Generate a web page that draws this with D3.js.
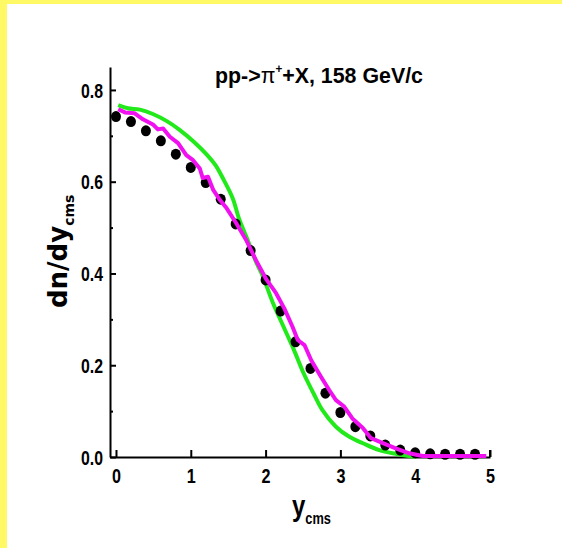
<!DOCTYPE html>
<html>
<head>
<meta charset="utf-8">
<script src="https://cdn.jsdelivr.net/npm/d3@7"></script>
<style>
  html, body { margin: 0; padding: 0; background: #fff; }
  svg { display: block; }
  text { font-family: "Liberation Sans", Arial, sans-serif; font-weight: bold; fill: #000; }
</style>
</head>
<body>
<svg id="chart" width="562" height="548"></svg>
<script>
// Measured dn/dy of pi+ in pp at 158 GeV/c (points)
const dataY = [0, 0.2, 0.4, 0.6, 0.8, 1.0, 1.2, 1.4, 1.6, 1.8, 2.0, 2.2, 2.4, 2.6, 2.8,
               3.0, 3.2, 3.4, 3.6, 3.8, 4.0, 4.2, 4.4, 4.6, 4.8];
const dataDn = [0.742, 0.731, 0.711, 0.689, 0.660, 0.631, 0.598, 0.562, 0.508, 0.450,
                0.386, 0.318, 0.251, 0.193, 0.139, 0.097, 0.066, 0.046, 0.026, 0.015,
                0.009, 0.007, 0.006, 0.006, 0.006];

// Smooth model curve (green)
const greenY = [0.03, 0.16, 0.32, 0.50, 0.68, 0.85, 1.04, 1.22, 1.33, 1.44, 1.56, 1.65, 1.76,
                1.87, 1.96, 2.10, 2.24, 2.38, 2.51, 2.64, 2.76, 2.94, 3.12, 3.30, 3.52, 3.74,
                3.92, 4.00];
const greenDn = [0.767, 0.760, 0.757, 0.747, 0.732, 0.713, 0.687, 0.658, 0.636, 0.604, 0.564,
                 0.517, 0.473, 0.426, 0.395, 0.335, 0.284, 0.233, 0.182, 0.139, 0.102, 0.066,
                 0.044, 0.030, 0.015, 0.007, 0.002, 0.000];

// Simulated spectrum (magenta)
const magentaY = [0.03, 0.12, 0.25, 0.36, 0.50, 0.56, 0.63, 0.72, 0.83, 0.94, 1.03, 1.12, 1.16,
                  1.23, 1.30, 1.39, 1.48, 1.61, 1.74, 1.88, 2.01, 2.14, 2.25, 2.36, 2.43, 2.52,
                  2.61, 2.74, 2.85, 2.94, 3.05, 3.16, 3.30, 3.41, 3.56, 3.74, 3.92, 4.10, 4.95];
const magentaDn = [0.758, 0.751, 0.749, 0.736, 0.724, 0.714, 0.716, 0.698, 0.684, 0.658, 0.647,
                   0.629, 0.608, 0.611, 0.582, 0.560, 0.542, 0.509, 0.473, 0.426, 0.387, 0.357,
                   0.324, 0.284, 0.255, 0.244, 0.211, 0.175, 0.146, 0.124, 0.110, 0.084, 0.063,
                   0.041, 0.031, 0.019, 0.008, 0.002, 0.002];

const xTicks = [0, 1, 2, 3, 4, 5];
const yTicksMajor = [0.0, 0.2, 0.4, 0.6, 0.8];
const yTicksMinor = [0.1, 0.3, 0.5, 0.7];

const svg = d3.select("#chart");

// yellow frame on top and left
svg.append("rect").attr("x", 0).attr("y", 0).attr("width", 562).attr("height", 548).attr("fill", "#fff966");
svg.append("rect").attr("x", 7).attr("y", 4).attr("width", 555).attr("height", 544).attr("fill", "#fff");

const x = d3.scaleLinear().domain([-0.08, 5]).range([110, 490]);
const y = d3.scaleLinear().domain([0, 0.85]).range([457, 67]);

// axes
const gx = svg.append("g").attr("transform", `translate(0,${y(0)})`)
  .call(d3.axisBottom(x).tickValues(xTicks).tickFormat(d3.format("d")).tickSizeInner(-7).tickSizeOuter(0).tickPadding(12));
const gy = svg.append("g").attr("transform", `translate(${x(-0.08)},0)`)
  .call(d3.axisLeft(y).tickValues(yTicksMajor).tickFormat(d3.format(".1f")).tickSizeInner(-6).tickSizeOuter(0).tickPadding(7));
svg.append("g").attr("transform", `translate(${x(-0.08)},0)`)
  .call(d3.axisLeft(y).tickValues(yTicksMinor).tickFormat("").tickSizeInner(-3).tickSizeOuter(0))
  .select(".domain").remove();

[gx, gy].forEach(g => {
  g.select(".domain").attr("stroke", "#000").attr("stroke-width", 2);
  g.selectAll(".tick text").style("font-size", "20px").style("font-weight", "bold");
});
svg.selectAll(".tick line").attr("stroke", "#000").attr("stroke-width", 2);
// condensed numerals
gy.selectAll(".tick text").attr("dy", "0.36em").attr("textLength", 22).attr("lengthAdjust", "spacingAndGlyphs");
gx.selectAll(".tick text").attr("textLength", 9).attr("lengthAdjust", "spacingAndGlyphs");

// right-end tick on x axis
gx.append("line").attr("x1", x(5)).attr("x2", x(5)).attr("y1", 0).attr("y2", -7).attr("stroke", "#000").attr("stroke-width", 2);

// curves and points
const pts = (xs, ys) => xs.map((v, i) => [v, ys[i]]);

svg.append("path")
  .datum(pts(greenY, greenDn))
  .attr("fill", "none").attr("stroke", "#22ea1a").attr("stroke-width", 4)
  .attr("d", d3.line().x(d => x(d[0])).y(d => y(d[1])).curve(d3.curveCatmullRom));

svg.append("g").selectAll("ellipse")
  .data(pts(dataY, dataDn))
  .join("ellipse")
  .attr("cx", d => x(d[0])).attr("cy", d => y(d[1]))
  .attr("rx", 5).attr("ry", 5.5).attr("fill", "#000");

svg.append("path")
  .datum(pts(magentaY, magentaDn))
  .attr("fill", "none").attr("stroke", "#f010f0").attr("stroke-width", 4)
  .attr("stroke-linejoin", "round")
  .attr("d", d3.line().x(d => x(d[0])).y(d => y(d[1])));

// title
const title = svg.append("text").attr("x", 215).attr("y", 83).style("font-size", "22px")
  .attr("textLength", 208).attr("lengthAdjust", "spacingAndGlyphs");
title.append("tspan").text("pp->");
title.append("tspan").text("π").style("font-weight", "normal");
title.append("tspan").text("+").attr("dy", -10).style("font-size", "12px");
title.append("tspan").text("+X, 158 GeV/c").attr("dy", 10);

// x axis label (condensed)
const xl = svg.append("text").attr("transform", "translate(292,516) scale(0.8,1)").style("font-size", "30px");
xl.append("tspan").text("y");
xl.append("tspan").text("cms").attr("dy", 8).style("font-size", "16px");

// y axis label
const yl = svg.append("text").attr("transform", "translate(67,308) rotate(-90)")
  .style("font-family", "'DejaVu Sans', sans-serif").style("font-size", "26px");
yl.append("tspan").text("dn/dy");
yl.append("tspan").text("cms").attr("dy", 7).style("font-size", "14px");
</script>
</body>
</html>
